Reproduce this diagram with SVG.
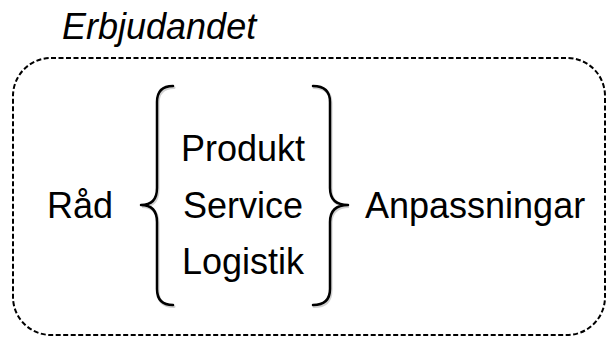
<svg xmlns="http://www.w3.org/2000/svg" width="606" height="338" viewBox="0 0 606 338">
  <defs>
    <style>
      .t { font-family: "Liberation Sans", Arial, sans-serif; font-size: 36px; fill: #000; }
      .title { font-style: italic; }
      .frame { fill: none; stroke: #000; stroke-width: 2; stroke-dasharray: 5 2.5; }
      .brace { fill: none; stroke: #000; stroke-width: 2.5; stroke-linecap: round; stroke-linejoin: round; }
      .shadow { fill: none; stroke: #000; stroke-opacity: 0.18; stroke-width: 3; stroke-linecap: round; }
    </style>
  </defs>
  <rect width="606" height="338" fill="#fff"/>
  <g id="title">
    <text class="t title" x="62" y="39">Erbjudandet</text>
  </g>
  <g id="frame">
    <rect class="frame" x="13" y="58" width="592" height="277" rx="38" ry="38"/>
  </g>
  <g id="rad">
    <text class="t" x="47" y="218">Råd</text>
  </g>
  <g id="brace-left">
    <path class="shadow" transform="translate(1,1.5)" d="M173,86 Q157,86 157,102 L157,188 Q157,205 141,205 Q157,205 157,222 L157,289 Q157,305 173,305"/>
    <path class="brace" d="M173,86 Q157,86 157,102 L157,188 Q157,205 141,205 Q157,205 157,222 L157,289 Q157,305 173,305"/>
  </g>
  <g id="items">
    <text class="t" x="243" y="161" text-anchor="middle">Produkt</text>
    <text class="t" x="243" y="218" text-anchor="middle">Service</text>
    <text class="t" x="243" y="274" text-anchor="middle">Logistik</text>
  </g>
  <g id="brace-right">
    <path class="shadow" transform="translate(1,1.5)" d="M313,86 Q330,86 330,102 L330,188 Q330,205 348,205 Q330,205 330,222 L330,289 Q330,305 313,305"/>
    <path class="brace" d="M313,86 Q330,86 330,102 L330,188 Q330,205 348,205 Q330,205 330,222 L330,289 Q330,305 313,305"/>
  </g>
  <g id="anpassningar">
    <text class="t" x="365" y="218">Anpassningar</text>
  </g>
  <g id="connectors"/>
</svg>
